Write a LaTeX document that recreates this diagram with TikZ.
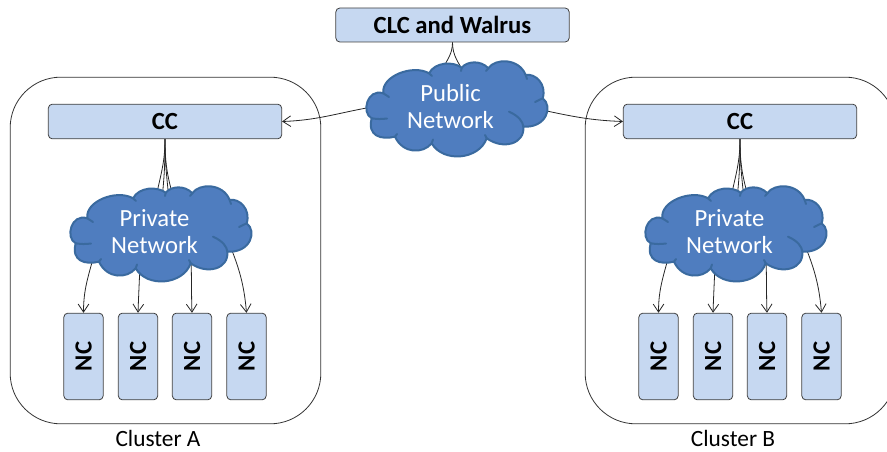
\documentclass[tikz,border=0pt]{standalone}
\usepackage{fontspec}
\setmainfont{Carlito}
\usetikzlibrary{arrows.meta,backgrounds}

\definecolor{boxfill}{HTML}{C6D8F1}
\definecolor{cloudfill}{HTML}{4F7DBF}
\definecolor{cloudline}{HTML}{3A6A9F}

\tikzset{
  box/.style={draw=black!75,fill=boxfill,rounded corners=3pt,line width=0.6pt,inner sep=0pt,font=\fontsize{18.5}{18.5}\selectfont\bfseries},
  nettext/.style={text=white,align=center,font=\fontsize{18.5}{20}\selectfont},
  clusterbox/.style={draw=black!80,rounded corners=38pt,line width=0.6pt,minimum width=233pt,minimum height=260pt},
  crease/.style={draw=cloudline,line width=1.5pt,line cap=round},
  wire/.style={black!85,line width=0.6pt},
  tip/.style={wire,-{Straight Barb[length=6pt,width=8pt]}},
  netcloud/.pic={
    \path[crease,line join=round,fill=cloudfill] (-73.7,-14.7)
      .. controls (-76,-32) and (-44,-44) .. (-28,-34.7)
      .. controls (-22,-46) and (-4,-47) .. (4.7,-40.3)
      .. controls (10,-47) and (24,-48) .. (31.3,-39.7)
      .. controls (38,-50) and (62,-50) .. (68.7,-33)
      .. controls (78,-35) and (90,-24) .. (85.7,-9.7)
      .. controls (96,-2) and (90,20) .. (66.3,18.7)
      .. controls (68,36) and (46,42) .. (29.7,30.3)
      .. controls (22,52) and (-14,55) .. (-25.3,35.3)
      .. controls (-34,46) and (-54,46) .. (-62,28.7)
      .. controls (-76,32) and (-90,28) .. (-85.3,10.3)
      .. controls (-96,5) and (-90,-20) .. (-73.7,-14.7) -- cycle;
    \draw[crease] (-73.7,-14.7) -- (-68,-11);
    \draw[crease] (-85.3,10.3) to[bend right=8] (-70,10.5);
    \draw[crease] (68.7,-33) -- (70,-29);
    \draw[crease] (85.7,-9.7) -- (78,-6);
    \draw[crease] (52,3.7) .. controls (62,8) and (66,14) .. (66.3,18.7);
    \draw[crease] (-62,28.7) -- (-60,26);
    \draw[crease] (-25.3,35.3) -- (-24,31.5);
    \draw[crease] (29.7,30.3) -- (28,27);
    \draw[crease] (-28,-34.7) -- (-25,-32);
    \draw[crease] (4.7,-40.3) -- (4,-37);
    \draw[crease] (31.3,-39.7) -- (29,-37);
    \coordinate (-c) at (-6.5,-1.5);
    \coordinate (-ta) at (-16,-36);
    \coordinate (-tb) at (-5,-36);
    \coordinate (-tc) at (1,-34);
    \coordinate (-td) at (8,-34);
    \coordinate (-te) at (12,-37);
    \coordinate (-w) at (-85,-1);
    \coordinate (-e) at (85,2);
    \coordinate (-sa) at (-67,22);
    \coordinate (-sb) at (-21,30);
    \coordinate (-sc) at (30,26);
    \coordinate (-sd) at (68,10);
  }
}

\begin{document}
\begin{tikzpicture}[x=0.75pt,y=-0.75pt]
  \useasboundingbox (0,0) rectangle (887,452);
  \clip (0,0) rectangle (887,452);

  \node[box,minimum width=175pt,minimum height=25.5pt] (clc) at (452.5,25) {CLC and Walrus};
  \pic (public) at (457,108) {netcloud};
  \node[nettext] (publictext) at (public-c) {Public\\Network};

  \foreach \c/\o in {A/0,B/575} {
    \begin{scope}[shift={(\o,0)}]
      \node[clusterbox] (cluster\c) at (165.5,250.5) {};
      \node[inner sep=0pt] (label\c) at (158,438.5) {\fontsize{17.5}{17.5}\selectfont Cluster \c};
      \node[box,minimum width=175pt,minimum height=26pt] (cc\c) at (165,121.5) {CC};
      \pic (private\c) at (161,233) {netcloud};
      \node[nettext] (privatetext\c) at (private\c-c) {Private\\Network};
      \foreach \n/\x in {1/83.5,2/138,3/192,4/246.5}
        \node[box,minimum width=29.5pt,minimum height=65pt] (nc\c\n) at (\x,356.5) {\rotatebox{90}{NC}};

      \begin{scope}[on background layer]
        \foreach \t/\a in {tb/78,tc/84,td/96,te/106}
          \draw[wire] (cc\c.south) to[out=-90,in=\a] (private\c-\t);
        \draw[tip] (private\c-sa) to[out=-105,in=90] (nc\c1.north);
        \draw[tip] (private\c-sb) to[out=-92,in=88] (nc\c2.north);
        \draw[tip] (private\c-sc) to[out=-88,in=92] (nc\c3.north);
        \draw[tip] (private\c-sd) to[out=-68,in=95] (nc\c4.north);
      \end{scope}
    \end{scope}
  }

  \begin{scope}[on background layer]
    \draw[wire] (clc.south) to[out=-90,in=65] (public-ta);
    \draw[wire] (clc.south) to[out=-90,in=120] (public-td);
    \draw[tip] (public-w) to[out=190,in=2] (ccA.east);
    \draw[tip] (public-e) to[out=-12,in=178] (ccB.west);
  \end{scope}
\end{tikzpicture}
\end{document}
